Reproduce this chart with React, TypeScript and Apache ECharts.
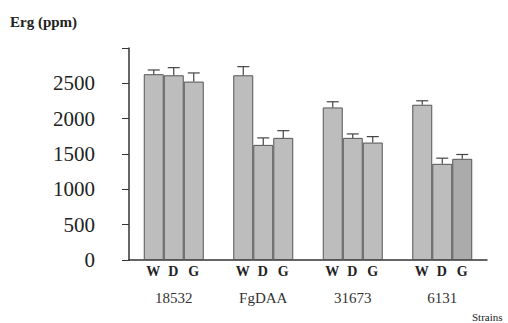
import React, { useEffect, useRef } from "react";
import * as echarts from "echarts";

const strains = ["18532", "FgDAA", "31673", "6131"];
const seriesNames = ["W", "D", "G"];
const wValues = [2629, 2614, 2159, 2197];
const dValues = [2614, 1629, 1728, 1361];
const gValues = [2525, 1728, 1662, 1432];
const wErrors = [60, 122, 80, 56];
const dErrors = [108, 99, 56, 80];
const gErrors = [122, 102, 84, 61];
const yTicks = [0, 500, 1000, 1500, 2000, 2500];

const FONT = "'Liberation Serif', 'Times New Roman', serif";

export default function App() {
  const ref = useRef<HTMLDivElement>(null);
  useEffect(() => {
    if (!ref.current) return;
    const chart = echarts.init(ref.current, null, { renderer: "svg" });
    const values = [wValues, dValues, gValues];
    const errors = [wErrors, dErrors, gErrors];
    const errData: number[][] = [];
    values.forEach((vals, s) =>
      vals.forEach((v, c) => errData.push([c, s, v, errors[s][c]]))
    );
    const barW = 20;
    const barSeries = values.map((vals, s) => ({
      type: "bar",
      name: seriesNames[s],
      barWidth: barW,
      barGap: "0%",
      data: vals.map((v, c) =>
        s === 2 && c === 3
          ? { value: v, itemStyle: { color: "#ababab" } }
          : v
      ),
      itemStyle: { color: "#bdbdbd", borderColor: "#555", borderWidth: 1 },
      silent: true,
    }));
    const wdg = { fontFamily: FONT, fontSize: 14, fontWeight: "bold", color: "#222", lineHeight: 20 };
    chart.setOption({
      animation: false,
      backgroundColor: "#fff",
      title: [
        {
          text: "Erg (ppm)",
          left: 10,
          top: 14,
          padding: 0,
          textStyle: { fontFamily: FONT, fontSize: 15, fontWeight: "bold", color: "#222" },
        },
        {
          text: "Strains",
          left: 472,
          top: 311,
          padding: 0,
          textStyle: { fontFamily: FONT, fontSize: 11, fontWeight: "normal", color: "#222" },
        },
      ],
      grid: { left: 129, right: 21, top: 48, bottom: 63, containLabel: false },
      xAxis: {
        type: "category",
        data: strains,
        axisLine: { lineStyle: { color: "#333", width: 1.5 } },
        axisTick: { inside: true, length: 5, lineStyle: { color: "#333" } },
        axisLabel: {
          margin: 1,
          interval: 0,
          formatter: (name: string) => `{w|W}{d|D}{g|G}\n{s|${name}}`,
          rich: {
            w: { ...wdg, padding: [0, 3, 0, 2] },
            d: { ...wdg, padding: [0, 5, 0, 5] },
            g: { ...wdg, padding: [0, 4, 0, 5] },
            s: { fontFamily: FONT, fontSize: 15, color: "#333", lineHeight: 34 },
          },
        },
      },
      yAxis: {
        type: "value",
        min: 0,
        max: 3000,
        interval: 500,
        splitLine: { show: false },
        axisLine: { show: true, lineStyle: { color: "#333", width: 1.5 } },
        axisTick: { show: true, length: 7, lineStyle: { color: "#333" } },
        axisLabel: {
          margin: 34,
          fontFamily: FONT,
          fontSize: 21,
          color: "#222",
          formatter: (v: number) => (yTicks.includes(v) ? String(v) : ""),
        },
      },
      series: [
        ...barSeries,
        {
          type: "custom",
          silent: true,
          z: 5,
          data: errData,
          encode: { x: 0, y: 2 },
          renderItem: (params: any, api: any) => {
            const c = api.value(0);
            const s = api.value(1);
            const v = api.value(2);
            const e = api.value(3);
            const base = api.coord([c, v]);
            const top = api.coord([c, v + e]);
            const x = base[0] + (s - 1) * barW;
            const st = { stroke: "#444", lineWidth: 1.2 };
            return {
              type: "group",
              children: [
                { type: "line", shape: { x1: x, y1: base[1], x2: x, y2: top[1] }, style: st },
                { type: "line", shape: { x1: x - 6, y1: top[1], x2: x + 6, y2: top[1] }, style: st },
              ],
            };
          },
        },
      ],
    });
    return () => chart.dispose();
  }, []);
  return (
    <div
      ref={ref}
      style={{ position: "fixed", left: 0, top: 0, width: 508, height: 323 }}
    />
  );
}
